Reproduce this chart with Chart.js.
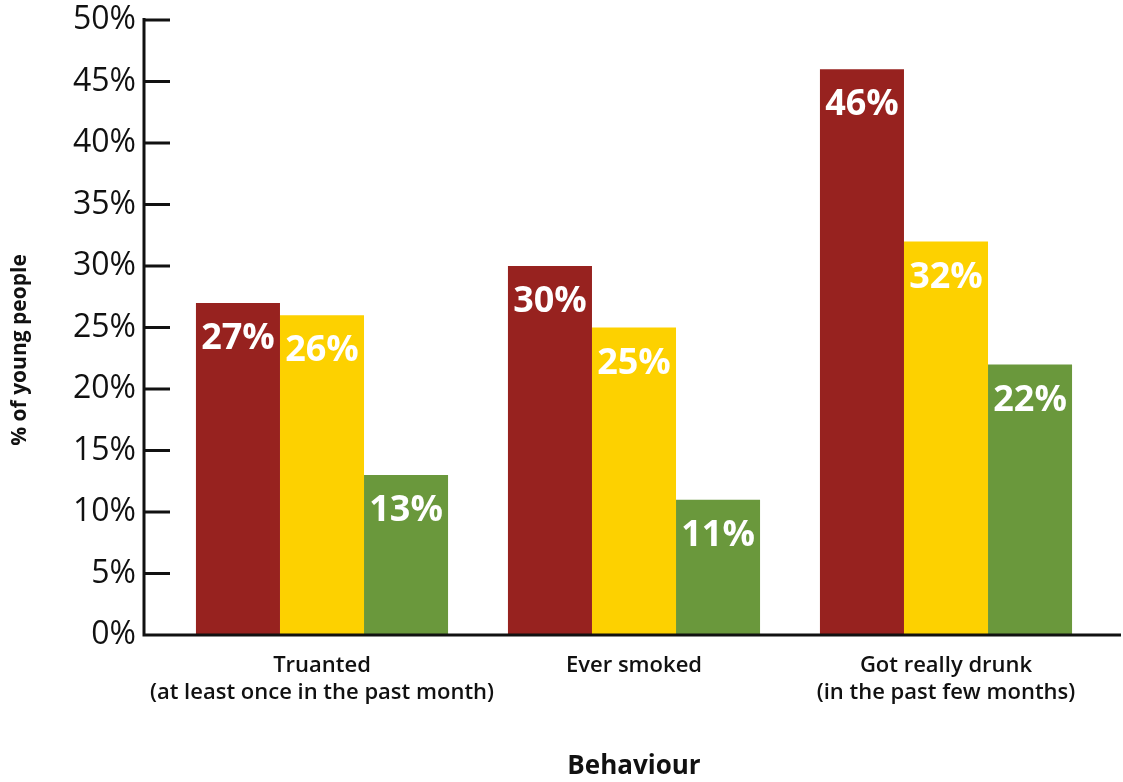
<!DOCTYPE html>
<html>
<head>
<meta charset="utf-8">
<script src="https://cdn.jsdelivr.net/npm/chart.js@4.4.1/dist/chart.umd.min.js"></script>
<style>
  html, body { margin: 0; padding: 0; background: #fff; }
  #chart { display: block; }
</style>
</head>
<body>
<canvas id="chart" width="1123" height="782"></canvas>
<script>
const behaviours = [
    ['Truanted', '(at least once in the past month)'],
    'Ever smoked',
    ['Got really drunk', '(in the past few months)']
];
const groupA = [27, 30, 46];
const groupB = [26, 25, 32];
const groupC = [13, 11, 22];
const seriesColours = ['#97221f', '#fdd100', '#6a983c'];
const yTicks = [0, 5, 10, 15, 20, 25, 30, 35, 40, 45, 50];

const FONT = '"Open Sans", "Liberation Sans", Arial, sans-serif';

// axis lines with the ticks pointing into the plot, plus the value labels
const frame = {
    id: 'frame',
    afterDatasetsDraw: function(chart) {
        const ctx = chart.ctx;
        const area = chart.chartArea;
        const y = chart.scales.y;
        const axisX = area.left - 22;

        ctx.save();
        ctx.fillStyle = '#fff';
        ctx.font = 'bold 36px ' + FONT;
        ctx.textAlign = 'center';
        ctx.textBaseline = 'middle';
        chart.data.datasets.forEach((ds, i) => {
            chart.getDatasetMeta(i).data.forEach((bar, j) => {
                ctx.fillText(ds.data[j] + '%', bar.x, bar.y + 36);
            });
        });

        ctx.strokeStyle = '#111';
        ctx.lineWidth = 3;
        ctx.beginPath();
        ctx.moveTo(axisX, y.getPixelForValue(50) - 2);
        ctx.lineTo(axisX, y.getPixelForValue(0));
        ctx.lineTo(chart.width - 2, y.getPixelForValue(0));
        yTicks.forEach(v => {
            const py = y.getPixelForValue(v);
            ctx.moveTo(axisX, py);
            ctx.lineTo(axisX + 26, py);
        });
        ctx.stroke();

        ctx.fillStyle = '#111';
        ctx.font = 'bold 21px ' + FONT;
        ctx.translate(20, 350);
        ctx.rotate(-Math.PI / 2);
        ctx.fillText('% of young people', 0, 0);
        ctx.restore();
    }
};

new Chart(document.getElementById('chart'), {
    type: 'bar',
    data: {
        labels: behaviours,
        datasets: [groupA, groupB, groupC].map((vals, i) => ({
            data: vals,
            backgroundColor: seriesColours[i],
            borderWidth: 0,
            barPercentage: 1,
            categoryPercentage: 0.808
        }))
    },
    options: {
        responsive: false,
        animation: false,
        devicePixelRatio: 1,
        layout: { padding: { left: 0, right: 21, top: 20, bottom: 0 } },
        plugins: {
            legend: { display: false },
            tooltip: { enabled: false }
        },
        scales: {
            x: {
                grid: { display: false },
                border: { display: false },
                ticks: {
                    color: '#111',
                    font: { family: FONT, size: 22, weight: 600 },
                    padding: 10,
                    maxRotation: 0,
                    autoSkip: false
                },
                title: {
                    display: true,
                    text: 'Behaviour',
                    color: '#111',
                    font: { family: FONT, size: 26, weight: 'bold' },
                    padding: { top: 46, bottom: 0 }
                },
                afterFit: s => { s.height = 147; s.paddingLeft = 0; s.paddingRight = 0; }
            },
            y: {
                min: 0,
                max: 50,
                grid: { display: false },
                border: { display: false },
                afterBuildTicks: s => { s.ticks = yTicks.map(v => ({ value: v })); },
                ticks: {
                    color: '#111',
                    font: { family: FONT, size: 32 },
                    padding: 22,
                    callback: v => v + '%'
                },
                afterFit: s => { s.width = 166; s.paddingTop = 0; s.paddingBottom = 0; }
            }
        }
    },
    plugins: [frame]
});
</script>
</body>
</html>
